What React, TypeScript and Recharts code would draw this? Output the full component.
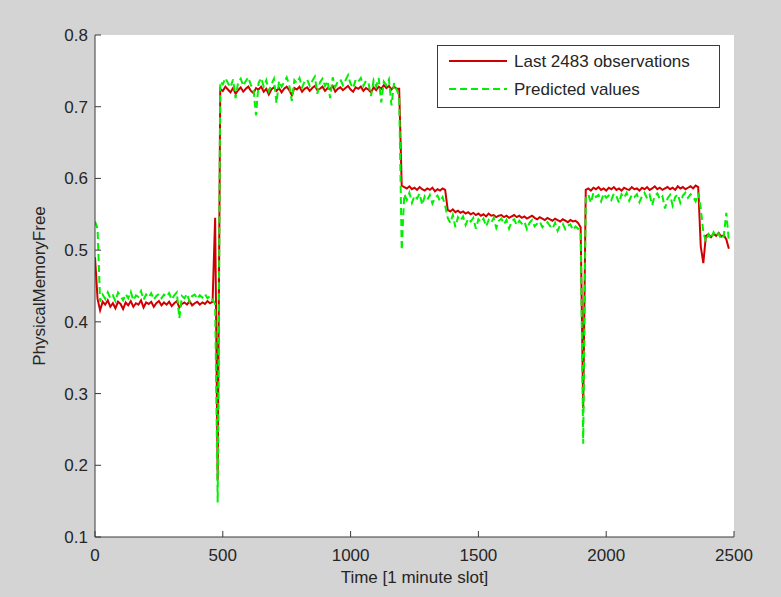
import React from "react"
import { CartesianGrid, Legend, Line, LineChart, XAxis, YAxis } from "recharts"

// observed (red) and predicted (green) PhysicalMemoryFree, sampled every 10 minutes
const obsA = [
    0.49, 0.432, 0.416, 0.428, 0.424, 0.43, 0.421, 0.426, 0.419, 0.428,
    0.425, 0.418, 0.427, 0.423, 0.429, 0.421, 0.426, 0.424, 0.43, 0.42,
    0.427, 0.425, 0.428, 0.421, 0.426, 0.429, 0.423, 0.427, 0.424, 0.428,
    0.422, 0.426, 0.429, 0.42, 0.425, 0.427, 0.424, 0.429, 0.423, 0.426,
    0.428, 0.424, 0.427, 0.425, 0.429, 0.426, 0.428,
]
const predA = [
    0.54, 0.53, 0.428, 0.438, 0.432, 0.441, 0.433, 0.437, 0.429, 0.441,
    0.436, 0.43, 0.439, 0.433, 0.442, 0.43, 0.437, 0.435, 0.443, 0.431,
    0.438, 0.434, 0.44, 0.431, 0.436, 0.439, 0.433, 0.438, 0.435, 0.44,
    0.431, 0.437, 0.441, 0.405, 0.436, 0.433, 0.439, 0.428, 0.436, 0.438,
    0.432, 0.437, 0.434, 0.439, 0.433, 0.436, 0.431,
]
const obsDrop1 = [0.545, 0.18]
const predDrop1 = [0.425, 0.148]

const obsB = [
    0.725, 0.722, 0.728, 0.724, 0.72, 0.726, 0.718, 0.723, 0.727, 0.721,
    0.725, 0.728, 0.722, 0.719, 0.726, 0.724, 0.728, 0.721, 0.725, 0.717,
    0.724, 0.727, 0.722, 0.726, 0.72, 0.725, 0.728, 0.723, 0.716, 0.726,
    0.724, 0.728, 0.721, 0.725, 0.727, 0.722, 0.726, 0.729, 0.723, 0.725,
    0.728, 0.722, 0.726, 0.724, 0.729, 0.721, 0.725, 0.727, 0.723, 0.726,
    0.729, 0.724, 0.721, 0.727, 0.725, 0.728, 0.722, 0.726, 0.724, 0.72,
    0.727, 0.723, 0.728, 0.725, 0.73, 0.726, 0.729, 0.724, 0.728, 0.725,
]
const predB = [
    0.735, 0.731, 0.74, 0.733, 0.727, 0.738, 0.712, 0.734, 0.739, 0.729,
    0.736, 0.741, 0.73, 0.725, 0.688, 0.733, 0.74, 0.728, 0.737, 0.722,
    0.731, 0.739, 0.705, 0.736, 0.728, 0.734, 0.741, 0.73, 0.708, 0.737,
    0.733, 0.74, 0.727, 0.735, 0.738, 0.729, 0.736, 0.742, 0.718, 0.734,
    0.739, 0.729, 0.736, 0.712, 0.741, 0.728, 0.735, 0.738, 0.73, 0.737,
    0.744, 0.732, 0.726, 0.738, 0.735, 0.74, 0.729, 0.736, 0.733, 0.715,
    0.737, 0.728, 0.74, 0.706, 0.735, 0.73, 0.738, 0.702, 0.733, 0.724,
]
const obsDrop2 = [0.725, 0.59]
const predDrop2 = [0.715, 0.5]

const obsC = [0.588, 0.586, 0.589, 0.585, 0.587, 0.584, 0.588, 0.585, 0.583, 0.586, 0.584, 0.587, 0.582, 0.585, 0.583, 0.586, 0.584]
const predC = [0.578, 0.57, 0.58, 0.566, 0.576, 0.572, 0.579, 0.563, 0.575, 0.57, 0.577, 0.565, 0.573, 0.576, 0.568, 0.574, 0.562]

const obsD = [
    0.556, 0.554, 0.557, 0.553, 0.555, 0.552, 0.554, 0.551, 0.553, 0.55,
    0.552, 0.549, 0.551, 0.548, 0.55, 0.547, 0.551, 0.548, 0.549, 0.546,
    0.548, 0.549, 0.546, 0.548, 0.545, 0.547, 0.549, 0.546, 0.548, 0.545,
    0.547, 0.544, 0.546, 0.548, 0.545, 0.543, 0.546, 0.544, 0.542, 0.545,
    0.543, 0.541, 0.544, 0.542, 0.54, 0.543, 0.541, 0.539, 0.542, 0.54,
    0.541, 0.538, 0.532,
]
const predD = [
    0.545, 0.538, 0.549, 0.532, 0.546, 0.541, 0.547, 0.535, 0.544, 0.54,
    0.545, 0.53, 0.543, 0.539, 0.544, 0.533, 0.542, 0.538, 0.545, 0.531,
    0.541, 0.544, 0.536, 0.542, 0.53, 0.54, 0.543, 0.535, 0.541, 0.537,
    0.54, 0.529, 0.538, 0.542, 0.533, 0.537, 0.54, 0.532, 0.536, 0.539,
    0.534, 0.53, 0.538, 0.527, 0.535, 0.537, 0.529, 0.534, 0.536, 0.528,
    0.533, 0.53, 0.525,
]
const obsDrop3 = [0.28]
const predDrop3 = [0.23]

const obsE = [
    0.584, 0.586, 0.583, 0.587, 0.585, 0.588, 0.584, 0.586, 0.583, 0.587,
    0.585, 0.588, 0.584, 0.586, 0.583, 0.587, 0.585, 0.584, 0.588, 0.585,
    0.586, 0.583, 0.587, 0.585, 0.588, 0.584, 0.586, 0.589, 0.585, 0.587,
    0.584, 0.586, 0.588, 0.585, 0.587, 0.584, 0.589, 0.586, 0.588, 0.585,
    0.587, 0.589, 0.586, 0.59, 0.588,
]
const predE = [
    0.572, 0.578, 0.566, 0.58, 0.574, 0.577, 0.568, 0.579, 0.573, 0.576,
    0.57, 0.579, 0.575, 0.566, 0.578, 0.573, 0.58, 0.569, 0.577, 0.574,
    0.578, 0.567, 0.575, 0.58, 0.572, 0.577, 0.563, 0.576, 0.579, 0.571,
    0.575, 0.558, 0.572, 0.577, 0.562, 0.574, 0.578, 0.566, 0.576, 0.58,
    0.573, 0.578, 0.575, 0.568, 0.58,
]

const obsF = [0.505, 0.482, 0.52, 0.522, 0.518, 0.523, 0.52, 0.524, 0.519, 0.521, 0.515, 0.502]
const predF = [0.558, 0.525, 0.512, 0.522, 0.516, 0.525, 0.519, 0.523, 0.515, 0.52, 0.552, 0.512]

const observed = [...obsA, ...obsDrop1, ...obsB, ...obsDrop2, ...obsC, ...obsD, ...obsDrop3, ...obsE, ...obsF]
const predicted = [...predA, ...predDrop1, ...predB, ...predDrop2, ...predC, ...predD, ...predDrop3, ...predE, ...predF]
const STEP = 10

const xTicks = [0, 500, 1000, 1500, 2000, 2500]
const yTicks = [0.1, 0.2, 0.3, 0.4, 0.5, 0.6, 0.7, 0.8]

const data = observed.map((v, i) => ({ time: i * STEP, observed: v, predicted: predicted[i] }))

const FONT = "'Liberation Sans', Arial, sans-serif"
const AXIS = "#3a3a3a"
const TEXT = "#262626"
const RED = "#d00000"
const GREEN = "#00f000"
const TICK = 6

const BottomTick = ({ x, y, payload }: any) => (
    <g>
        <line x1={x} x2={x} y1={y} y2={y - TICK} stroke={AXIS} />
        <text x={x} y={y + 24} textAnchor="middle" fontSize={17} fontFamily={FONT} fill={TEXT}>
            {payload.value}
        </text>
    </g>
)

const LeftTick = ({ x, y, payload }: any) => (
    <g>
        <line x1={x} x2={x + TICK} y1={y} y2={y} stroke={AXIS} />
        <text x={x - 7} y={y + 6} textAnchor="end" fontSize={17} fontFamily={FONT} fill={TEXT}>
            {payload.value.toFixed(1)}
        </text>
    </g>
)

const TopTick = ({ x, y }: any) => <line x1={x} x2={x} y1={y} y2={y + TICK} stroke={AXIS} />
const RightTick = ({ x, y }: any) => <line x1={x} x2={x - TICK} y1={y} y2={y} stroke={AXIS} />

const LegendBox = ({ payload }: any) => (
    <svg width={283} height={63} style={{ display: "block" }}>
        <rect x={0.5} y={0.5} width={282} height={62} fill="#fff" stroke={AXIS} />
        {(payload || []).map((entry: any, i: number) => {
            const cy = 16 + i * 28
            const dashed = entry.dataKey === "predicted"
            return (
                <g key={entry.value}>
                    <line
                        x1={12}
                        x2={70}
                        y1={cy}
                        y2={cy}
                        stroke={entry.color}
                        strokeWidth={2}
                        strokeDasharray={dashed ? "7 4" : undefined}
                    />
                    <text x={77} y={cy + 6} fontSize={17} fontFamily={FONT} fill={TEXT}>
                        {entry.value}
                    </text>
                </g>
            )
        })}
    </svg>
)

export default function App() {
    return (
        <div style={{ position: "absolute", left: 0, top: 0, width: 781, height: 597, background: "#d4d4d4" }}>
            <LineChart width={781} height={597} data={data} margin={{ top: 35, right: 47, bottom: 0, left: 35 }}>
                <CartesianGrid horizontal={false} vertical={false} fill="#ffffff" />
                <XAxis
                    dataKey="time"
                    type="number"
                    domain={[0, 2500]}
                    ticks={xTicks}
                    interval={0}
                    height={60}
                    tickSize={0}
                    tickMargin={0}
                    tick={<BottomTick />}
                    axisLine={{ stroke: AXIS }}
                    allowDataOverflow
                    label={{
                        content: ({ viewBox }: any) => (
                            <text
                                x={viewBox.x + viewBox.width / 2}
                                y={viewBox.y + 46}
                                textAnchor="middle"
                                fontSize={17}
                                fontFamily={FONT}
                                fill={TEXT}
                            >
                                Time [1 minute slot]
                            </text>
                        ),
                    }}
                />
                <XAxis
                    xAxisId="top"
                    orientation="top"
                    dataKey="time"
                    type="number"
                    domain={[0, 2500]}
                    ticks={xTicks}
                    interval={0}
                    height={0}
                    tickSize={0}
                    tickMargin={0}
                    tick={<TopTick />}
                    axisLine={{ stroke: AXIS }}
                    allowDataOverflow
                />
                <YAxis
                    type="number"
                    domain={[0.1, 0.8]}
                    ticks={yTicks}
                    interval={0}
                    width={60}
                    tickSize={0}
                    tickMargin={0}
                    tick={<LeftTick />}
                    axisLine={{ stroke: AXIS }}
                    allowDataOverflow
                    label={{
                        content: ({ viewBox }: any) => {
                            const cx = viewBox.x + 4
                            const cy = viewBox.y + viewBox.height / 2
                            return (
                                <text
                                    x={cx}
                                    y={cy}
                                    transform={`rotate(-90, ${cx}, ${cy})`}
                                    textAnchor="middle"
                                    dominantBaseline="central"
                                    fontSize={17}
                                    fontFamily={FONT}
                                    fill={TEXT}
                                >
                                    PhysicalMemoryFree
                                </text>
                            )
                        },
                    }}
                />
                <YAxis
                    yAxisId="right"
                    orientation="right"
                    type="number"
                    domain={[0.1, 0.8]}
                    ticks={yTicks}
                    interval={0}
                    width={0}
                    tickSize={0}
                    tickMargin={0}
                    tick={<RightTick />}
                    axisLine={{ stroke: AXIS }}
                    allowDataOverflow
                />
                <Legend
                    layout="horizontal"
                    verticalAlign="middle"
                    align="center"
                    content={<LegendBox />}
                    wrapperStyle={{ position: "absolute", top: 45, left: 437, width: 283, height: 63 }}
                />
                <Line
                    dataKey="observed"
                    name="Last 2483 observations"
                    type="linear"
                    stroke={RED}
                    strokeWidth={2}
                    dot={false}
                    isAnimationActive={false}
                />
                <Line
                    dataKey="predicted"
                    name="Predicted values"
                    type="linear"
                    stroke={GREEN}
                    strokeWidth={2}
                    strokeDasharray="7 4"
                    dot={false}
                    isAnimationActive={false}
                />
            </LineChart>
        </div>
    )
}
